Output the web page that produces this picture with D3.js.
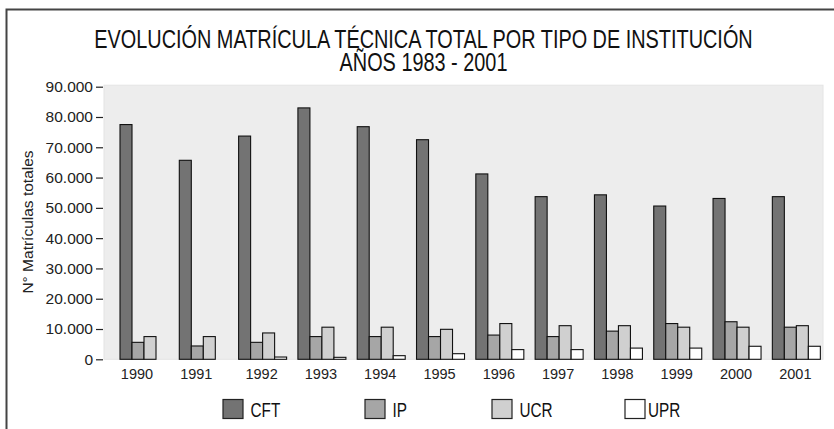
<!DOCTYPE html>
<html>
<head>
<meta charset="utf-8">
<script src="https://cdn.jsdelivr.net/npm/d3@7"></script>
<style>
  html, body { margin: 0; padding: 0; background: #fff; }
  svg { display: block; }
</style>
</head>
<body>
<svg id="chart" width="834" height="429"></svg>
<script>
// ---- data ----
const years = ["1990","1991","1992","1993","1994","1995","1996","1997","1998","1999","2000","2001"];
const seriesNames = ["CFT","IP","UCR","UPR"];
const cft = [77500, 65700, 73700, 83000, 76800, 72500, 61200, 53700, 54300, 50600, 53100, 53700];
const ip  = [5600, 4400, 5600, 7500, 7500, 7500, 8000, 7500, 9300, 11800, 12400, 10600];
const ucr = [7500, 7500, 8700, 10600, 10600, 9900, 11800, 11100, 11100, 10600, 10600, 11100];
const upr = [null, null, 750, 650, 1200, 1850, 3200, 3200, 3700, 3700, 4300, 4300];
const yTicks = [0, 10000, 20000, 30000, 40000, 50000, 60000, 70000, 80000, 90000];
const titleLines = ["EVOLUCIÓN MATRÍCULA TÉCNICA TOTAL POR TIPO DE INSTITUCIÓN", "AÑOS 1983 - 2001"];
const yLabel = "N° Matrículas totales";

// ---- styling ----
const fills = ["#737373", "#a6a6a6", "#d0d0d0", "#ffffff"];
const legendX = [223, 365, 492, 625];
const font = "'Liberation Sans', Arial, Helvetica, sans-serif";

const svg = d3.select("#chart");
const values = [cft, ip, ucr, upr];

// outer frame
svg.append("rect")
  .attr("x", 6.5).attr("y", 9.5).attr("width", 900).attr("height", 500)
  .attr("fill", "none").attr("stroke", "#444").attr("stroke-width", 2);

// title (condensed horizontally so line 1 spans the reference width)
const titleG = svg.append("g");
const t1 = titleG.append("text").attr("text-anchor", "middle").attr("font-family", font)
  .attr("font-size", 26).attr("fill", "#111").text(titleLines[0]);
const t2 = titleG.append("text").attr("text-anchor", "middle").attr("font-family", font)
  .attr("font-size", 26).attr("fill", "#111").text(titleLines[1]);
const condense = 659 / t1.node().getComputedTextLength();
t1.attr("transform", `translate(423.5,48.3) scale(${condense},1)`);
t2.attr("transform", `translate(423.5,70.5) scale(${condense},1)`);

// scales
const y = d3.scaleLinear().domain([0, 90000]).range([359.3, 86.7]);
const x0 = d3.scaleBand().domain(years).range([114.35, 826]).padding(0);
const groupW = 48;
const x1 = d3.scaleBand().domain(seriesNames).range([0, groupW]).padding(0);
const groupStart = yr => x0(yr) + (x0.bandwidth() - groupW) / 2;

// plot background
svg.append("rect")
  .attr("x", 104).attr("y", y(90000) - 1.5)
  .attr("width", 823 - 104).attr("height", y(0) - y(90000) + 1.5)
  .attr("fill", "#ededed").attr("stroke", "#e4e4e4").attr("stroke-width", 1);

// y axis
const loc = d3.formatLocale({decimal: ",", thousands: ".", grouping: [3], currency: ["$", ""]});
const fmt = loc.format(",");
const yAxis = svg.append("g").attr("transform", "translate(103,0)")
  .call(d3.axisLeft(y).tickValues(yTicks).tickFormat(fmt).tickSize(7).tickPadding(3));
yAxis.select(".domain").remove();
yAxis.selectAll(".tick line").attr("stroke", "#222").attr("stroke-width", 1.2);
yAxis.selectAll(".tick text").attr("font-family", font).attr("font-size", 15.5).attr("fill", "#222");

// y label
svg.append("text")
  .attr("transform", "translate(33,222) rotate(-90)")
  .attr("text-anchor", "middle").attr("font-family", font).attr("font-size", 15.5)
  .attr("fill", "#222").text(yLabel);

// bars
years.forEach((yr, i) => {
  const g = svg.append("g").attr("transform", `translate(${groupStart(yr)},0)`);
  seriesNames.forEach((s, k) => {
    const v = values[k][i];
    if (v == null) return;
    g.append("rect")
      .attr("x", x1(s)).attr("y", y(v))
      .attr("width", x1.bandwidth()).attr("height", y(0) - y(v))
      .attr("fill", fills[k]).attr("stroke", "#111").attr("stroke-width", 1.1);
  });
  // label centred under the bars that exist
  const present = seriesNames.filter((s, k) => values[k][i] != null);
  const cx = groupStart(yr) + (x1(present[0]) + x1(present[present.length - 1]) + x1.bandwidth()) / 2;
  svg.append("text").attr("x", cx - 1).attr("y", 378.5)
    .attr("text-anchor", "middle").attr("font-family", font).attr("font-size", 14.5)
    .attr("fill", "#222").text(yr);
});

// legend
seriesNames.forEach((s, k) => {
  svg.append("rect").attr("x", legendX[k]).attr("y", 399.5).attr("width", 20).attr("height", 19)
    .attr("fill", fills[k]).attr("stroke", "#222").attr("stroke-width", 1.2);
  svg.append("text")
    .attr("transform", `translate(${legendX[k] + (k === 3 ? 23 : 27.5)},416.8) scale(${condense},1)`)
    .attr("font-family", font).attr("font-size", 20).attr("fill", "#111").text(s);
});
</script>
</body>
</html>
